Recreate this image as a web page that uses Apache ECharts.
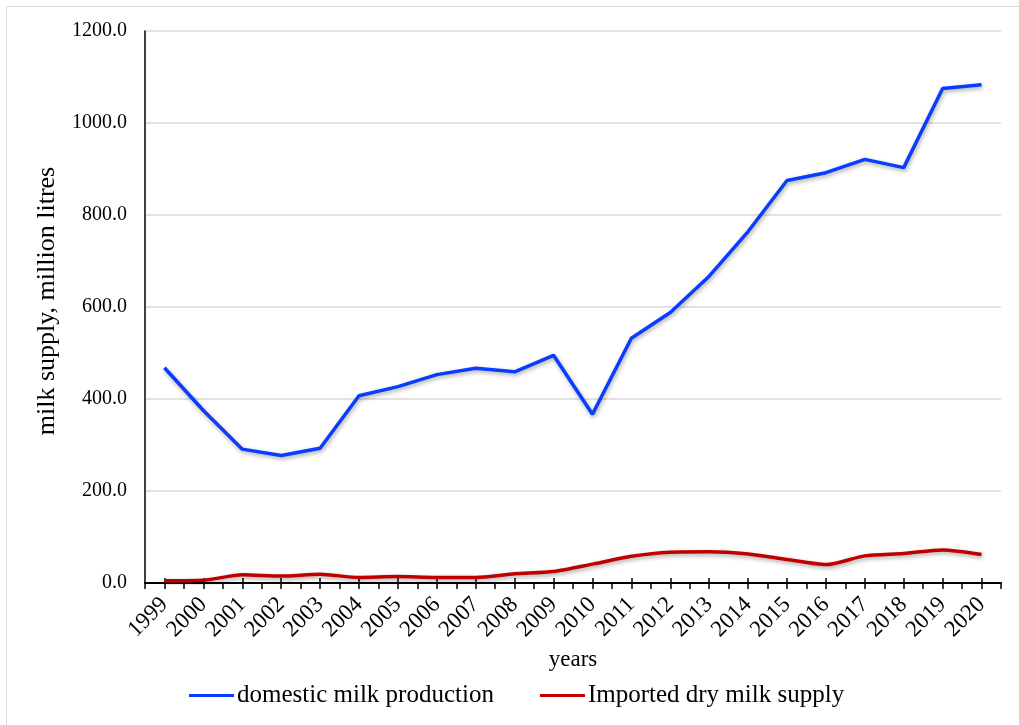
<!DOCTYPE html>
<html>
<head>
<meta charset="utf-8">
<script src="https://cdn.jsdelivr.net/npm/echarts@6/dist/echarts.min.js"></script>
<style>html,body{margin:0;padding:0;background:#fff}#c{width:1019px;height:725px}</style>
</head>
<body>
<div id="c"></div>
<script>
var years = ['1999','2000','2001','2002','2003','2004','2005','2006','2007','2008','2009','2010','2011','2012','2013','2014','2015','2016','2017','2018','2019','2020'];
var domestic = [468, 375, 291, 277, 293, 407, 427, 453, 467, 459, 495, 367, 532, 588, 667, 764, 875, 892, 921, 903, 1075, 1083];
var imported = [5, 6, 18, 15, 19, 12, 14, 12, 12, 20, 25, 41, 58, 67, 68, 63, 51, 40, 59, 64, 72, 62];
var yTicks = [0, 200, 400, 600, 800, 1000, 1200];

var font = 'Liberation Serif';
var chart = echarts.init(document.getElementById('c'));
var shadow = {shadowColor:'rgba(0,0,0,0.35)', shadowBlur:4, shadowOffsetX:1, shadowOffsetY:2};
chart.setOption({
  animation:false,
  graphic:[{type:'rect', shape:{x:6.5,y:6.5,width:1030,height:740}, style:{fill:'none', stroke:'#d9d9d9', lineWidth:1}, silent:true}],
  grid:{left:145, right:18, top:31, bottom:142},
  legend:{
    bottom:12, left:184, itemGap:46, itemWidth:45, itemHeight:3, icon:'rect',
    textStyle:{fontFamily:font, fontSize:25, color:'#000', padding:[0,0,0,-2]},
    data:['domestic milk production','Imported dry milk supply']
  },
  xAxis:[{
    type:'category', data:years, boundaryGap:true,
    name:'years', nameLocation:'middle', nameGap:64,
    nameTextStyle:{fontFamily:font, fontSize:23, color:'#000'},
    axisLine:{lineStyle:{color:'#000', width:2}},
    axisTick:{show:true, interval:0, length:6, lineStyle:{color:'#000', width:1.5}},
    axisLabel:{interval:0, rotate:45, margin:18, fontFamily:font, fontSize:23, color:'#000'}
  },{
    type:'category', data:years, boundaryGap:true, position:'bottom', gridIndex:0,
    axisLine:{show:false}, axisLabel:{show:false},
    axisTick:{show:true, alignWithLabel:true, interval:0, length:6, lineStyle:{color:'#000', width:1.5}}
  },{
    type:'category', data:years, boundaryGap:true, position:'bottom', gridIndex:0,
    axisLine:{show:false}, axisLabel:{show:false},
    axisTick:{show:true, inside:true, alignWithLabel:true, interval:0, length:5, lineStyle:{color:'#000', width:1.5}}
  }],
  yAxis:{
    type:'value', min:yTicks[0], max:yTicks[yTicks.length-1], interval:200,
    name:'milk supply, million litres', nameLocation:'middle', nameGap:85, nameRotate:90,
    nameTextStyle:{fontFamily:font, fontSize:26, color:'#000', padding:[0,0,0,12]},
    axisLine:{show:true, lineStyle:{color:'#000', width:1.5}},
    axisTick:{show:false},
    axisLabel:{margin:18, fontFamily:font, fontSize:20, color:'#000', formatter:function(v){return v.toFixed(1);}},
    splitLine:{lineStyle:{color:'#d9d9d9', width:1.5}}
  },
  series:[{
    name:'domestic milk production', type:'line', data:domestic, symbol:'none',
    lineStyle:Object.assign({color:'#0a3cff', width:3.5}, shadow), itemStyle:{color:'#0a3cff'}
  },{
    name:'Imported dry milk supply', type:'line', data:imported, symbol:'none', smooth:0.25,
    lineStyle:Object.assign({color:'#c00000', width:3.5}, shadow), itemStyle:{color:'#c00000'}
  }]
});
</script>
</body>
</html>
